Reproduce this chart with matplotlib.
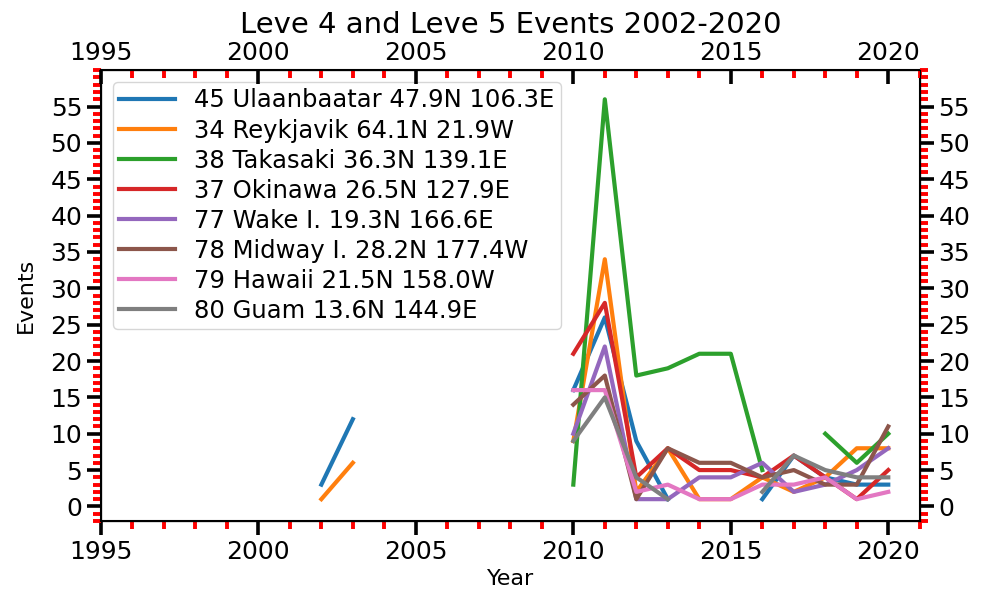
"""Level 4 and Level 5 events per station, 2002-2020."""

import matplotlib.pyplot as plt
import numpy as np
from matplotlib.ticker import MultipleLocator

nan = np.nan

years = list(range(2002, 2021))

stations = [
    "45 Ulaanbaatar 47.9N 106.3E",
    "34 Reykjavik 64.1N 21.9W",
    "38 Takasaki 36.3N 139.1E",
    "37 Okinawa 26.5N 127.9E",
    "77 Wake I. 19.3N 166.6E",
    "78 Midway I. 28.2N 177.4W",
    "79 Hawaii 21.5N 158.0W",
    "80 Guam 13.6N 144.9E",
]

#            2002 2003 2004 2005 2006 2007 2008 2009 2010 2011 2012 2013 2014 2015 2016 2017 2018 2019 2020
ulaanbaatar = [3, 12, nan, nan, nan, nan, nan, nan, 16, 26, 9, 1, nan, nan, 1, 7, 4, 3, 3]
reykjavik = [1, 6, nan, nan, nan, nan, nan, nan, 9, 34, 2, 8, 1, 1, 4, 2, 4, 8, 8]
takasaki = [nan, nan, nan, nan, nan, nan, nan, nan, 3, 56, 18, 19, 21, 21, 5, nan, 10, 6, 10]
okinawa = [nan, nan, nan, nan, nan, nan, nan, nan, 21, 28, 4, 8, 5, 5, 4, 7, 4, 1, 5]
wake = [nan, nan, nan, nan, nan, nan, nan, nan, 10, 22, 1, 1, 4, 4, 6, 2, 3, 5, 8]
midway = [nan, nan, nan, nan, nan, nan, nan, nan, 14, 18, 1, 8, 6, 6, 4, 5, 3, 3, 11]
hawaii = [nan, nan, nan, nan, nan, nan, nan, nan, 16, 16, 2, 3, 1, 1, 3, 3, 4, 1, 2]
guam = [nan, nan, nan, nan, nan, nan, nan, nan, 9, 15, 4, 1, nan, nan, 2, 7, 5, 4, 4]

series = [ulaanbaatar, reykjavik, takasaki, okinawa, wake, midway, hawaii, guam]


def style_ticks(axis, which_axis, direction):
    axis.tick_params(axis=which_axis, which="major", direction=direction,
                     length=10, width=2.6, color="black", labelsize=18)
    axis.tick_params(axis=which_axis, which="minor", direction=direction,
                     length=6, width=2.8, color="red")


def main() -> None:
    fig = plt.figure(figsize=(9.89, 5.90), dpi=100)
    ax = fig.add_axes([0.102, 0.117, 0.828, 0.764])

    for values, label in zip(series, stations):
        ax.plot(years, values, lw=3, label=label)

    ax.set_xlim(1995, 2021)
    ax.set_ylim(-2, 60)
    ax.xaxis.set_major_locator(MultipleLocator(5))
    ax.xaxis.set_minor_locator(MultipleLocator(1))
    ax.yaxis.set_minor_locator(MultipleLocator(1))
    ax.set_yticks(range(0, 56, 5))
    style_ticks(ax, "x", "out")
    style_ticks(ax, "y", "out")
    ax.set_xlabel("Year", fontsize=16, labelpad=4)
    ax.set_ylabel("Events", fontsize=16, labelpad=10)

    ax_right = ax.twinx()
    ax_right.set_ylim(ax.get_ylim())
    ax_right.set_yticks(range(0, 56, 5))
    ax_right.yaxis.set_minor_locator(MultipleLocator(1))
    style_ticks(ax_right, "y", "out")

    ax_top = ax.twiny()
    ax_top.set_xlim(ax.get_xlim())
    ax_top.xaxis.set_major_locator(MultipleLocator(5))
    ax_top.xaxis.set_minor_locator(MultipleLocator(1))
    style_ticks(ax_top, "x", "in")

    for spine in ax.spines.values():
        spine.set_linewidth(1.5)

    ax.legend(loc="upper left", fontsize=17.5, labelspacing=0.25,
              handlelength=2.3, borderpad=0.25, borderaxespad=0.5)
    ax_top.set_title("Leve 4 and Leve 5 Events 2002-2020", fontsize=21, pad=6)

    fig.savefig("out.png", dpi=100)
    plt.close(fig)


if __name__ == "__main__":
    main()
